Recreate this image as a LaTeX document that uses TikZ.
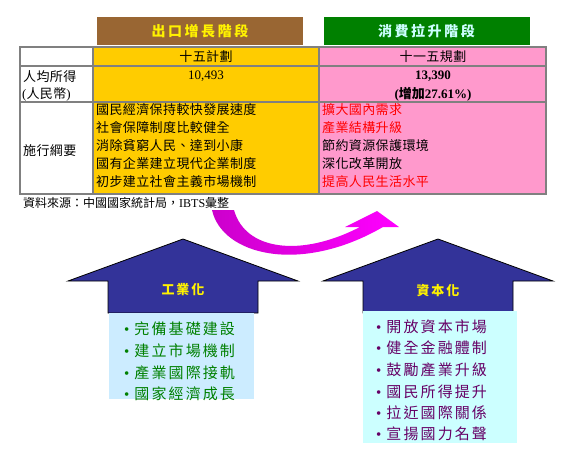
\documentclass[tikz,border=0pt]{standalone}
\usepackage{fontspec}
\setmainfont{Liberation Serif}
\newfontfamily\cjk{Noto Sans CJK TC}
\newfontfamily\cjkt[LetterSpace=3]{Noto Sans CJK TC}
\newfontfamily\cjksp[LetterSpace=14]{Noto Sans CJK TC}
\newfontfamily\cjkhd[LetterSpace=18]{Noto Sans CJK TC}
\definecolor{hbrown}{HTML}{996633}
\definecolor{hgreen}{HTML}{008000}
\definecolor{hyellow}{HTML}{FFCC00}
\definecolor{hpink}{HTML}{FF99CC}
\definecolor{tgray}{HTML}{808080}
\definecolor{navy}{HTML}{333399}
\definecolor{lblue}{HTML}{CCECFF}
\definecolor{lcyan}{HTML}{CCFFFF}
\definecolor{itgreen}{HTML}{008000}
\definecolor{itpurple}{HTML}{660066}
\definecolor{hdtxt}{HTML}{CCFFFF}
\definecolor{arrL}{HTML}{CC00CC}
\definecolor{arrR}{HTML}{FF00FF}
\begin{document}
\begin{tikzpicture}[x=1pt,y=-1pt,
  hdr/.style={minimum width=206pt,minimum height=28pt,inner sep=0pt,font=\cjkhd\fontsize{14}{16}\selectfont\bfseries},
  cell/.style={inner sep=0pt,anchor=west,font=\cjkt\fontsize{13}{15}\selectfont},
  ccell/.style={inner sep=0pt,font=\cjkt\fontsize{13}{15}\selectfont},
  grid/.style={draw=tgray,line width=2pt},
  house/.style={fill=navy,draw=black,line width=0.8pt},
  htxt/.style={inner sep=0pt,text=yellow,font=\cjksp\fontsize{13}{15}\selectfont\bfseries},
  item/.style={inner sep=0pt,anchor=west,font=\cjksp\fontsize{15}{17}\selectfont}
]
\useasboundingbox (0,0) rectangle (574,464);
\fill[white] (0,0) rectangle (574,464);

% header boxes
\node[hdr,fill=hbrown,text=yellow] (h1) at (200,31) {出口增長階段};
\node[hdr,fill=hgreen,text=hdtxt] (h2) at (426.5,31) {消費拉升階段};

% table fills
\fill[white] (20,47) rectangle (93,194);
\fill[hyellow] (93,47) rectangle (319,194);
\fill[hpink] (319,47) rectangle (546,194);
\draw[grid] (20,66) -- (546,66);
\draw[grid] (20,101.5) -- (546,101.5);
\draw[grid] (93,47) -- (93,194);
\draw[grid] (319,47) -- (319,194);
\draw[draw=tgray,line width=2.6pt] (20,47) rectangle (546,194);

% row 1
\node[ccell] (c12) at (206,57) {十五計劃};
\node[ccell] (c13) at (433,57) {十一五規劃};
% row 2
\node[cell] (c21a) at (23,77) {人均所得};
\node[cell] (c21b) at (22,94) {\rmfamily(\cjkt 人民幣\rmfamily)};
\node[inner sep=0pt,font=\fontsize{13}{15}\selectfont] (c22) at (206,76) {10,493};
\node[inner sep=0pt,font=\fontsize{13}{15}\selectfont\bfseries] (c23a) at (433,76) {13,390};
\node[inner sep=0pt,font=\fontsize{13}{15}\selectfont\bfseries] (c23b) at (433,94) {(\cjk\bfseries 增加\rmfamily\bfseries 27.61\%)};
% row 3
\node[cell] (c31) at (23,151) {施行綱要};
\node[cell] (c32a) at (96,110) {國民經濟保持較快發展速度};
\node[cell] (c32b) at (96,128) {社會保障制度比較健全};
\node[cell] (c32c) at (96,146) {消除貧窮人民、達到小康};
\node[cell] (c32d) at (96,164) {國有企業建立現代企業制度};
\node[cell] (c32e) at (96,182) {初步建立社會主義市場機制};
\node[cell,text=red] (c33a) at (322,110) {擴大國內需求};
\node[cell,text=red] (c33b) at (322,128) {產業結構升級};
\node[cell] (c33c) at (322,146) {節約資源保護環境};
\node[cell] (c33d) at (322,164) {深化改革開放};
\node[cell,text=red] (c33e) at (322,182) {提高人民生活水平};

% source
\node[inner sep=0pt,anchor=west,font=\cjk\fontsize{12}{14}\selectfont] (src) at (23,203) {資料來源：中國國家統計局，\rmfamily IBTS\cjk 彙整};

% curved arrow
\shade[left color=arrL, right color=arrR]
  (212,210) .. controls (222,255) and (300,275) .. (383,227)
  -- (399,227) -- (377,211) -- (345,227) -- (360,227)
  .. controls (300,258) and (245,250) .. (234,210) -- cycle;

% left house
\draw[house] (108,313) -- (108,281) -- (68,281) -- (183,239) -- (298,281) -- (258,281) -- (258,313) -- cycle;
\fill[lblue] (109,313) rectangle (254,399);
\node[htxt] (t1) at (183,290) {工業化};
\node[item,text=itgreen] (l1) at (124,329) {\rmfamily\textbullet\hspace{5pt}\cjksp 完備基礎建設};
\node[item,text=itgreen] (l2) at (124,351) {\rmfamily\textbullet\hspace{5pt}\cjksp 建立市場機制};
\node[item,text=itgreen] (l3) at (124,373) {\rmfamily\textbullet\hspace{5pt}\cjksp 產業國際接軌};
\node[item,text=itgreen] (l4) at (124,394) {\rmfamily\textbullet\hspace{5pt}\cjksp 國家經濟成長};

% right house
\draw[house] (363,313) -- (363,281) -- (323,281) -- (438,239) -- (553,281) -- (513,281) -- (513,313) -- cycle;
\fill[lcyan] (363,311) rectangle (517,443);
\node[htxt] (t2) at (438,291) {資本化};
\node[item,text=itpurple] (r1) at (376,327) {\rmfamily\textbullet\hspace{5pt}\cjksp 開放資本市場};
\node[item,text=itpurple] (r2) at (376,348) {\rmfamily\textbullet\hspace{5pt}\cjksp 健全金融體制};
\node[item,text=itpurple] (r3) at (376,370) {\rmfamily\textbullet\hspace{5pt}\cjksp 鼓勵產業升級};
\node[item,text=itpurple] (r4) at (376,392) {\rmfamily\textbullet\hspace{5pt}\cjksp 國民所得提升};
\node[item,text=itpurple] (r5) at (376,413) {\rmfamily\textbullet\hspace{5pt}\cjksp 拉近國際關係};
\node[item,text=itpurple] (r6) at (376,434) {\rmfamily\textbullet\hspace{5pt}\cjksp 宣揚國力名聲};
\end{tikzpicture}
\end{document}
